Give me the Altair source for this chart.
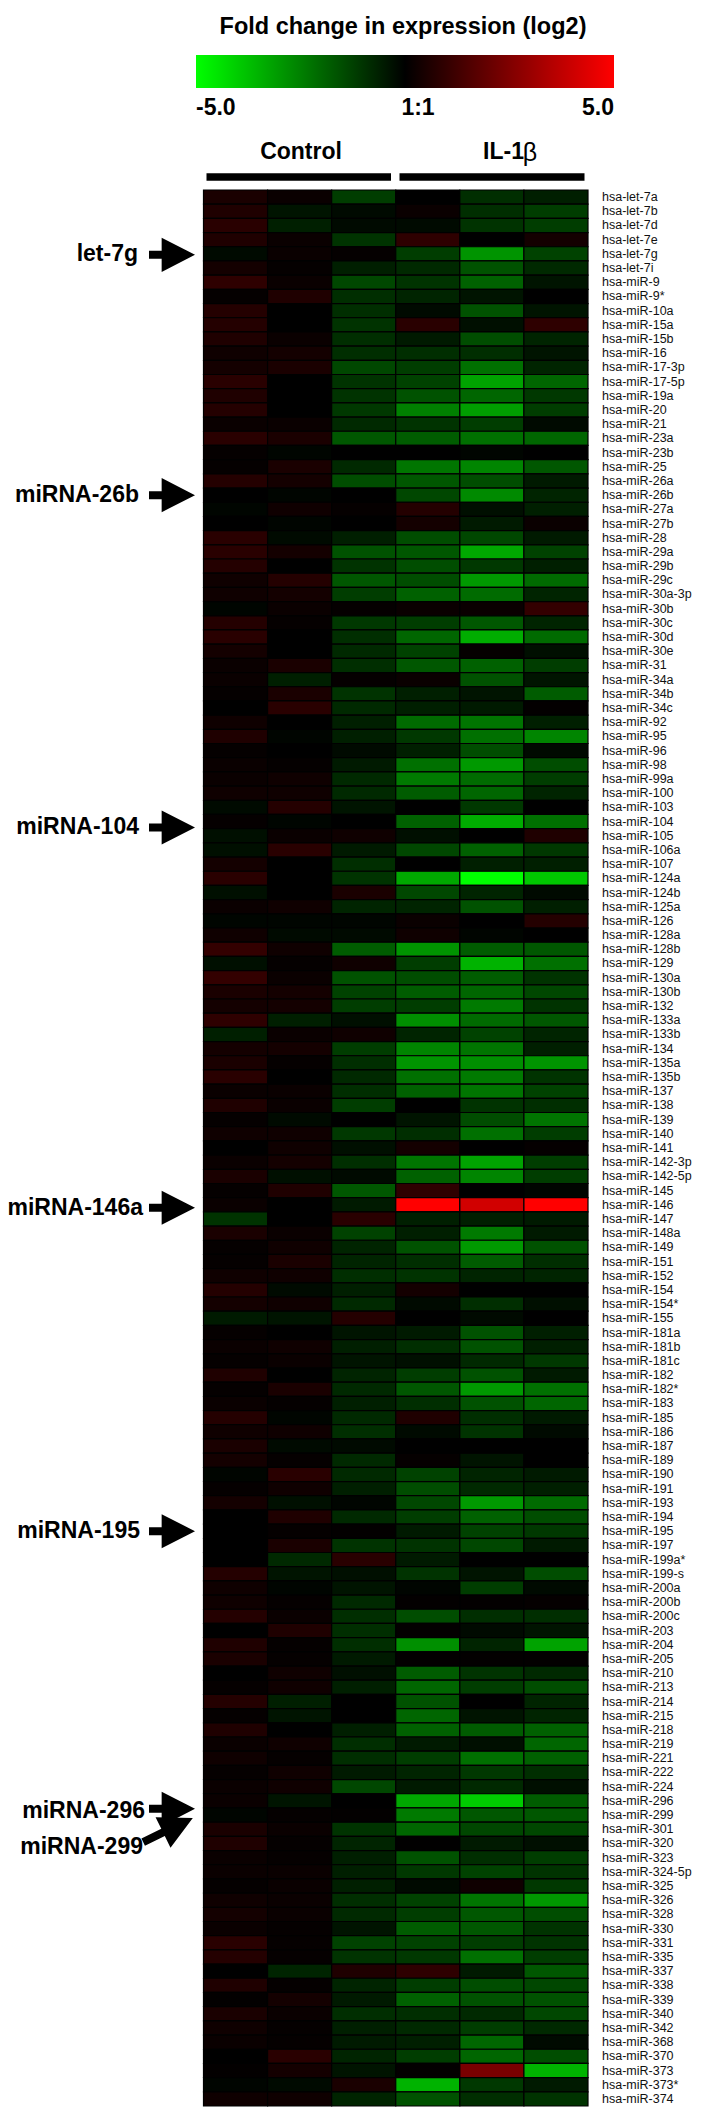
import altair as alt
import pandas as pd

mirnas = """let-7a let-7b let-7d let-7e let-7g let-7i miR-9 miR-9* miR-10a miR-15a miR-15b miR-16 miR-17-3p miR-17-5p miR-19a miR-20 miR-21 miR-23a miR-23b miR-25 miR-26a miR-26b miR-27a miR-27b miR-28 miR-29a miR-29b miR-29c miR-30a-3p miR-30b miR-30c miR-30d miR-30e miR-31 miR-34a miR-34b miR-34c miR-92 miR-95 miR-96 miR-98 miR-99a miR-100 miR-103 miR-104 miR-105 miR-106a miR-107 miR-124a miR-124b miR-125a miR-126 miR-128a miR-128b miR-129 miR-130a miR-130b miR-132 miR-133a miR-133b miR-134 miR-135a miR-135b miR-137 miR-138 miR-139 miR-140 miR-141 miR-142-3p miR-142-5p miR-145 miR-146 miR-147 miR-148a miR-149 miR-151 miR-152 miR-154 miR-154* miR-155 miR-181a miR-181b miR-181c miR-182 miR-182* miR-183 miR-185 miR-186 miR-187 miR-189 miR-190 miR-191 miR-193 miR-194 miR-195 miR-197 miR-199a* miR-199-s miR-200a miR-200b miR-200c miR-203 miR-204 miR-205 miR-210 miR-213 miR-214 miR-215 miR-218 miR-219 miR-221 miR-222 miR-224 miR-296 miR-299 miR-301 miR-320 miR-323 miR-324-5p miR-325 miR-326 miR-328 miR-330 miR-331 miR-335 miR-337 miR-338 miR-339 miR-340 miR-342 miR-368 miR-370 miR-373 miR-373* miR-374""".split()
labels = ["hsa-" + m for m in mirnas]

control_1 = [0.5,0.6,0.8,0.6,-0.2,0.4,0.9,0.1,0.7,0.7,
0.6,0.3,0.4,0.8,0.6,0.7,0.2,0.8,0.1,0.1,
0.7,0,-0.1,0,0.8,0.8,0.7,0.3,0.3,-0.1,
0.7,0.8,0.4,0.2,0.2,0.1,0,0.3,0.6,0.1,
0.2,0.2,0.3,-0.2,0.1,-0.3,-0.3,0.4,0.8,-0.3,
0.2,-0.1,0.3,1.0,-0.3,1.0,0.5,0.4,0.9,-0.6,
0.4,0.5,0.8,0.2,0.6,0.1,0.3,0,0.2,0.5,
0.1,0.2,-1.0,0.5,0.1,0.1,0.3,0.7,0.4,-0.5,
0.1,0.2,0.1,0.6,0.1,0.2,0.7,0.3,0.5,0.4,
-0.1,0.1,0.4,0,0,0,0,0.7,0.3,0.3,
0.7,0,0.6,0.5,0,0.1,0.7,0.1,0.6,0.2,
0.3,0.1,0.2,0.2,-0.1,0.5,0.6,0.2,0.2,0.1,
0.3,0.4,0.2,0.8,0.7,0,0.6,0.05,0.5,0.3,
0.2,0,0.05,-0.1,0.3]
control_2 = [0.2,-0.4,-0.6,0.2,0.2,0.1,0.2,0.6,0,0,
0.2,0.4,0.5,0,0,0,0.2,0.5,-0.1,0.5,
0.4,-0.1,0.3,-0.1,-0.2,0.4,0,0.7,0.4,0.2,
0.1,0,0,0.5,-0.6,0.5,0.8,0,-0.1,0,
0.1,0.3,0.3,0.7,-0.1,0.2,0.8,0,0,0,
0.3,-0.1,-0.2,0.3,0.1,0.2,0.4,0.4,-0.6,0.2,
0.4,0.1,0,0.2,0.2,-0.2,0.3,0.3,0.4,-0.3,
0.6,0,0,0.2,0.3,0.5,0.3,-0.2,0.3,-0.4,
0,0.3,0.2,0,0.5,0.1,-0.1,0.3,-0.2,0.1,
0.8,0.3,-0.3,0.6,0.1,0.5,-0.8,-0.4,-0.1,0.1,
0.2,0.6,0.1,0.1,0.3,0.3,-0.6,-0.4,0,0.3,
0.1,0.3,0.3,-0.4,0.1,0.2,0.1,0.1,0.2,0.2,
0.2,0.2,0.1,0.1,0.1,-0.7,0.1,0.4,0.2,0.1,
0.1,0.8,0.4,-0.2,0.3]
control_3 = [-1.2,-0.2,-0.2,-1.0,0.1,-0.6,-1.4,-0.9,-0.9,-1.0,
-0.9,-0.9,-1.4,-1.0,-1.0,-1.1,-0.8,-1.7,0,-0.8,
-1.5,0,0.1,0,-0.6,-1.6,-1.0,-1.7,-1.2,0.1,
-1.1,-0.9,-0.8,-0.9,0.1,-1.0,-0.8,-0.6,-0.6,-0.2,
-0.5,-0.8,-0.8,-0.4,0,0.3,-0.5,-0.9,-1.0,0.5,
-0.7,-0.1,-0.2,-1.8,0.3,-1.6,-1.3,-1.2,-0.3,0.3,
-1.2,-0.9,-0.8,-0.9,-1.2,0,-1.1,-0.3,-0.9,-0.2,
-1.7,-0.5,0.8,-1.3,-0.7,-0.7,-0.9,-0.6,-0.8,0.7,
-0.4,-0.6,-0.4,-0.7,-0.8,-0.6,-0.8,-0.9,-0.2,-0.8,
-0.8,-0.6,-0.1,-0.8,0.05,-1.0,0.8,-0.3,-0.4,-0.8,
-0.9,-0.9,-0.9,-0.5,-0.3,-0.6,0,0,-0.6,-0.9,
-0.9,-0.5,-1.4,0,0.05,-1.0,-0.7,-0.6,-0.6,-0.6,
-0.9,-0.8,-0.4,-1.3,-1.0,0.6,-0.7,-0.5,-0.9,-0.6,
-0.5,-0.7,-0.4,0.5,-0.7]
il1b_1 = [0,0.2,-0.2,0.9,-1.2,-0.8,-1.0,-0.7,-0.2,0.8,
-0.5,-0.9,-1.2,-1.3,-1.6,-2.5,-1.0,-1.8,0,-2.3,
-1.7,-1.4,0.7,0.4,-1.5,-1.7,-1.5,-1.5,-1.9,0.2,
-1.2,-2.0,-1.3,-1.7,0.2,-0.6,-0.6,-2.1,-1.1,-0.6,
-2.2,-2.4,-1.8,0,-1.9,-0.3,-1.4,0,-3.3,-1.4,
-0.7,0.2,0.3,-2.9,-1.2,-1.5,-1.8,-1.2,-2.8,-0.7,
-2.6,-2.9,-2.2,-1.9,0,-0.4,-0.9,0.4,-2.3,-1.9,
0.9,5.0,-0.6,-0.6,-1.6,-0.9,-1.0,0.4,-0.2,0,
-0.5,-0.9,-0.3,-1.2,-1.7,-0.9,0.6,-0.2,0,0.1,
-1.3,-1.5,-1.4,-1.2,-0.5,-1.0,-0.5,-1.0,-0.1,0.05,
-1.5,0.05,-2.8,0.05,-1.8,-2.0,-1.6,-2.0,-1.9,-0.5,
-1.2,-0.7,-0.5,-3.3,-2.4,-2.0,0.02,-1.6,-1.1,-0.2,
-1.3,-1.2,-1.8,-1.3,-1.1,0.9,-1.2,-1.9,-0.9,-0.8,
-0.6,-1.2,0.05,-3.5,-1.6]
il1b_2 = [-0.9,-0.9,-1.0,0,-2.9,-1.6,-1.9,-0.4,-1.6,-0.3,
-1.5,-0.9,-2.2,-3.2,-2.0,-3.1,-1.2,-2.2,-0.1,-2.6,
-1.5,-2.7,-0.3,-0.5,-1.4,-3.3,-1.1,-3.0,-2.1,0.2,
-1.7,-3.4,0.1,-1.9,-1.6,-0.4,-0.5,-2.3,-2.2,-1.5,
-3.0,-2.1,-2.0,-1.1,-3.4,0,-1.9,-0.6,-5.0,-0.7,
-1.6,0,-0.1,-1.8,-3.5,-1.8,-2.0,-2.4,-2.1,-1.3,
-2.3,-2.8,-2.4,-2.3,-1.0,-1.5,-2.2,0,-3.2,-2.6,
0,4.1,-0.6,-2.4,-3.0,-1.8,-0.7,0,-0.9,-0.2,
-1.6,-1.6,-0.8,-1.6,-3.0,-1.6,-0.9,-1.0,0,-0.4,
-0.7,-0.8,-3.0,-1.9,-1.3,-1.4,0,-0.4,-1.2,0.05,
-0.9,-0.2,-0.7,0.05,-1.0,-1.2,0,-0.4,-1.8,-0.3,
-2.2,-1.1,-0.8,-4.0,-1.7,-1.4,-0.5,-0.9,-1.3,0.3,
-2.3,-1.7,-1.7,-1.2,-2.2,-0.5,-1.5,-1.6,-0.8,-1.2,
-2.0,-2.0,2.4,-1.1,-0.9]
il1b_3 = [-0.6,-1.2,-1.2,0.4,-1.3,-0.8,-0.4,0,-0.4,0.9,
-0.7,-0.4,-0.7,-2.0,-1.1,-1.2,-0.2,-2.0,0,-1.7,
-0.5,-0.7,-0.6,0.2,-0.5,-1.3,-0.6,-2.1,-0.7,1.0,
-0.7,-2.1,-0.3,-1.2,-0.4,-1.8,0.05,-0.6,-2.6,-0.2,
-1.5,-1.2,-0.7,0,-2.2,0.6,-1.1,-0.6,-3.9,-0.2,
-0.6,0.7,0,-1.7,-2.2,-1.0,-1.4,-1.0,-1.7,-0.7,
-0.6,-2.9,-1.0,-1.3,-0.9,-2.3,-1.2,0.1,-1.2,-1.2,
-0.1,5.0,-0.5,-0.5,-1.6,-0.9,-0.7,0,-0.3,0,
-0.6,-0.6,-1.1,-0.5,-2.2,-2.0,-0.5,-0.2,0,0,
-0.5,-0.6,-2.1,-1.5,-1.1,-0.5,0,-1.5,-0.2,0.1,
-0.9,-0.4,-3.2,0.05,-0.8,-1.5,-0.7,-0.7,-1.9,-2.0,
-1.9,-0.9,-0.3,-1.8,-1.7,-1.4,-0.3,-1.2,-1.0,-1.1,
-3.0,-1.5,-1.0,-1.0,-1.2,-1.7,-1.4,-1.6,-1.4,-0.8,
-0.2,-1.5,-3.5,-0.5,-1.0]

samples = ["Control 1", "Control 2", "Control 3", "IL-1b 1", "IL-1b 2", "IL-1b 3"]
series = [control_1, control_2, control_3, il1b_1, il1b_2, il1b_3]
assert all(len(s) == len(labels) for s in series), [len(s) for s in series]

df = pd.DataFrame(
    [{"row": r, "sample": n, "value": v} for n, s in zip(samples, series) for r, v in zip(labels, s)]
)

FONT = "Liberation Sans"
x_enc = alt.X("sample:N", scale=alt.Scale(domain=samples, paddingInner=0, paddingOuter=0), axis=None)
y_scale = alt.Scale(domain=labels, paddingInner=0, paddingOuter=0)
y_axis = alt.Axis(orient="right", title=None, ticks=False, domain=False, labelFont=FONT,
                  labelFontSize=12.5, labelColor="#111111", labelPadding=13.5,
                  labelOverlap=False, labelLimit=0)
y_enc = alt.Y("row:N", scale=y_scale, axis=y_axis)

heat = alt.Chart(df).mark_rect(stroke="black", strokeWidth=1.2).encode(
    x=x_enc,
    y=y_enc,
    color=alt.Color(
        "value:Q",
        scale=alt.Scale(domain=[-5, 0, 5], range=["#00ff00", "#000000", "#ff0000"], interpolate="rgb"),
        legend=alt.Legend(
            orient="none", legendX=-7.5, legendY=-135, direction="horizontal", title=None,
            gradientLength=418, gradientThickness=33, gradientStrokeWidth=0,
            values=[-5, 5], labelExpr="datum.value < 0 ? '-5.0' : '5.0'", labelFont=FONT,
            labelFontSize=23, labelFontWeight="bold", labelColor="black", labelOffset=9,
            labelOverlap=False,
        ),
    ),
)

def text(label, x, y, size=23, weight="bold"):
    return alt.Chart(pd.DataFrame({"t": [label]})).mark_text(
        font=FONT, fontSize=size, fontWeight=weight, color="black", align="center", baseline="middle"
    ).encode(text="t:N", x=alt.value(x), y=alt.value(y))

def bar(x0, x1):
    return alt.Chart(pd.DataFrame({"a": [0]})).mark_rule(color="black", strokeWidth=7.5).encode(
        x=alt.value(x0), x2=alt.value(x1), y=alt.value(-13)
    )

ARROW = "M-1,-0.174L-0.45,-0.174L-0.45,-0.74L1,0L-0.45,0.74L-0.45,0.174L-1,0.174Z"
ARROW_LONG = "M-1.2,-0.174L-0.24,-0.174L-0.24,-0.74L1.2,0L-0.24,0.74L-0.24,0.174L-1.2,0.174Z"

def annotation(label, row, end_x, text_dy=0, arrow_dy=0, arrow_x=-31.5, shape=ARROW, angle=0):
    d = pd.DataFrame({"row": [row], "t": [label]})
    t = alt.Chart(d).mark_text(
        font=FONT, fontSize=23, fontWeight="bold", color="black", align="right", baseline="middle", dy=text_dy
    ).encode(text="t:N", x=alt.value(end_x - 203.5), y=y_enc)
    a = alt.Chart(d).mark_point(
        shape=shape, size=2116, filled=True, color="black", opacity=1, strokeWidth=0, angle=angle, yOffset=arrow_dy
    ).encode(x=alt.value(arrow_x), y=y_enc)
    return [a, t]

layers = [heat, text("Fold change in expression (log2)", 199.5, -163, size=23.5),
          text("1:1", 214.5, -82), text("Control", 97.5, -38),
          text("IL-1", 300, -38), text("β", 326.5, -37, size=25, weight="normal"),
          bar(3, 187.5), bar(196, 381)]
layers += annotation("let-7g", "hsa-let-7g", 138, arrow_dy=1)
layers += annotation("miRNA-26b", "hsa-miR-26b", 139)
layers += annotation("miRNA-104", "hsa-miR-104", 139, text_dy=5, arrow_dy=6)
layers += annotation("miRNA-146a", "hsa-miR-146", 143, text_dy=3, arrow_dy=3)
layers += annotation("miRNA-195", "hsa-miR-195", 140)
layers += annotation("miRNA-296", "hsa-miR-296", 145, text_dy=10, arrow_dy=8)
layers += annotation("miRNA-299", "hsa-miR-299", 143, text_dy=32, arrow_dy=15, arrow_x=-35.5,
                     shape=ARROW_LONG, angle=334)

chart = alt.layer(*layers).resolve_scale(y="shared", x="shared").properties(
    width=384.5, height=1916,
    padding={"left": 195.5, "top": 182, "right": 124, "bottom": 6},
    autosize=alt.AutoSizeParams(type="none"),
    background="white",
).configure_view(fill="black", stroke=None)

chart.save("out.html", embed_options={"renderer": "svg", "actions": False})
